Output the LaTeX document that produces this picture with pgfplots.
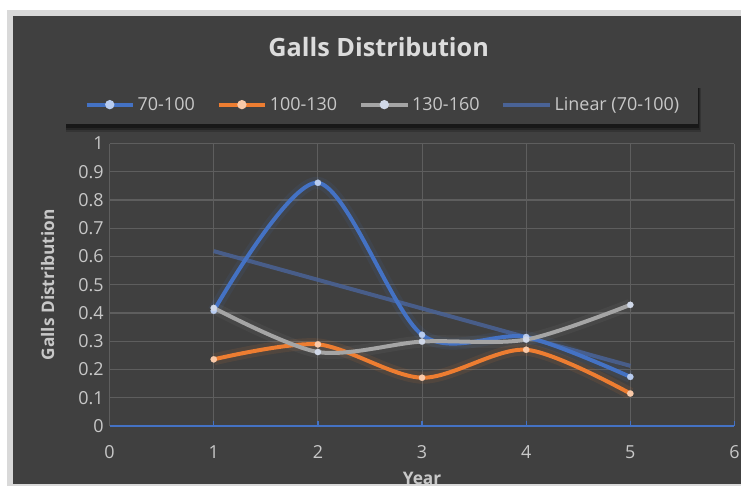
\documentclass[border=0pt]{standalone}
\usepackage{pgfplots}
\pgfplotsset{compat=1.18}
\usepackage{pgfplotstable}
\usepackage{fontspec}
\setmainfont{Open Sans}
\definecolor{bg}{HTML}{404040}
\definecolor{frame}{HTML}{D9D9D9}
\definecolor{gridc}{HTML}{5E5E5E}
\definecolor{txt}{HTML}{C8C8C8}
\definecolor{ttl}{HTML}{DCDCDC}
\definecolor{cblue}{HTML}{4472C4}
\definecolor{corange}{HTML}{ED7D31}
\definecolor{cgrey}{HTML}{A5A5A5}
\definecolor{ctrend}{HTML}{4A6396}
\definecolor{mblue}{HTML}{B8CCF0}
\definecolor{morange}{HTML}{F9C9A8}
\definecolor{mgrey}{HTML}{D0D8E8}

\pgfplotstableread{
x   a     b     c
1   0.408 0.236 0.418
2   0.861 0.289 0.262
3   0.323 0.171 0.299
4   0.315 0.270 0.306
5   0.174 0.115 0.429
}\galls
\pgfplotstableread{
x  t
1  0.619
5  0.213
}\trend

\begin{document}
\begin{tikzpicture}
\fill[white] (0pt,0pt) rectangle (558pt,-366pt);
\fill[frame] (5.25pt,-7.5pt) rectangle (558pt,-366pt);
\fill[bg] (9.75pt,-12pt) rectangle (558pt,-364.5pt);
\node[text=ttl, font=\fontsize{19}{21}\selectfont\bfseries] at (285pt,-35.25pt) {Galls Distribution};
% legend box with soft shadow
\fill[black, opacity=0.18] (49.5pt,-66pt) rectangle (527.5pt,-99.5pt);
\fill[black, opacity=0.25] (49.5pt,-66pt) rectangle (526.5pt,-98pt);
\fill[black, opacity=0.35] (49.5pt,-66pt) rectangle (525.8pt,-96pt);
\fill[bg] (48.75pt,-64.5pt) rectangle (525pt,-93pt);
\begin{axis}[
  at={(82.5pt,-320.625pt)}, anchor=origin,
  width=470.25pt, height=212.625pt, scale only axis,
  xmin=0, xmax=6, ymin=0, ymax=1,
  xtick={0,1,2,3,4,5,6},
  ytick={0,0.1,0.2,0.3,0.4,0.5,0.6,0.7,0.8,0.9,1},
  yticklabels={0,0.1,0.2,0.3,0.4,0.5,0.6,0.7,0.8,0.9,1},
  grid=major,
  grid style={gridc, line width=0.8pt},
  axis x line*=bottom, axis y line*=left,
  x axis line style={cblue, line width=1.4pt, -},
  y axis line style={gridc, line width=0.8pt, -},
  xtick style={cblue, line width=1pt},
  ytick style={draw=none},
  tick align=inside, major tick length=3.5pt,
  /pgf/number format/assume math mode=true,
  ticklabel style={text=txt, font=\fontsize{13.5}{15}\selectfont},
  xticklabel style={yshift=-11pt},
  yticklabel style={xshift=-1pt},
  xlabel={Year}, ylabel={Galls Distribution},
  xlabel style={text=txt, font=\fontsize{13}{15}\selectfont\bfseries, at={(axis description cs:0.5,-0.185)}, anchor=center},
  ylabel style={text=txt, font=\fontsize{13}{15}\selectfont\bfseries, at={(axis description cs:-0.099,0.5)}, anchor=center},
  legend columns=4,
  legend style={at={(axis description cs:0.4378,1.1376)}, anchor=center,
    fill=none, draw=none, text=txt, font=\fontsize{13.5}{15}\selectfont,
    /tikz/every even column/.append style={column sep=14.5pt}},
]
% trendline
\addplot[ctrend, line width=3pt, opacity=0.85, forget plot] table[x=x,y=t] {\trend};
% glows
\addplot[cblue, line width=9pt, opacity=0.1, smooth, forget plot] table[x=x,y=a] {\galls};
\addplot[corange, line width=9pt, opacity=0.1, smooth, forget plot] table[x=x,y=b] {\galls};
\addplot[cgrey, line width=9pt, opacity=0.08, smooth, forget plot] table[x=x,y=c] {\galls};
% series
\addplot[cblue, line width=3pt, smooth, mark=*, mark size=2.4pt, mark options={fill=mblue, draw=mblue, line width=0.1pt},
  legend image code/.code={\draw[cblue, line width=3pt] (0pt,0pt) -- (35pt,0pt); \fill[mblue] (17.5pt,0pt) circle (1.9pt);}] table[x=x,y=a] {\galls};
\addlegendentry{70-100}
\addplot[corange, line width=3pt, smooth, mark=*, mark size=2.4pt, mark options={fill=morange, draw=morange, line width=0.1pt},
  legend image code/.code={\draw[corange, line width=3pt] (0pt,0pt) -- (35pt,0pt); \fill[morange] (17.5pt,0pt) circle (1.9pt);}] table[x=x,y=b] {\galls};
\addlegendentry{100-130}
\addplot[cgrey, line width=3pt, smooth, mark=*, mark size=2.4pt, mark options={fill=mgrey, draw=mgrey, line width=0.1pt},
  legend image code/.code={\draw[cgrey, line width=3pt] (0pt,0pt) -- (35pt,0pt); \fill[mgrey] (17.5pt,0pt) circle (1.9pt);}] table[x=x,y=c] {\galls};
\addlegendentry{130-160}
\addlegendimage{legend image code/.code={\draw[ctrend, line width=3pt] (0pt,0pt) -- (35pt,0pt);}}
\addlegendentry{Linear (70-100)}
\end{axis}
\end{tikzpicture}
\end{document}
